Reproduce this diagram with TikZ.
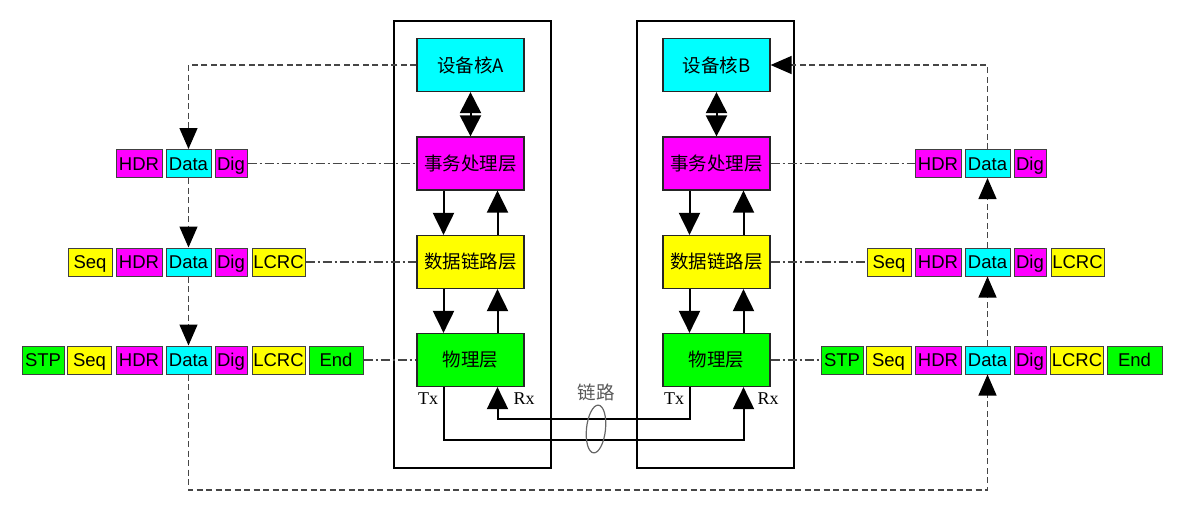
\documentclass[tikz,border=0pt]{standalone}
\usepackage{fontspec}
\setmainfont{Liberation Serif}
\setsansfont{Liberation Sans}
\newfontfamily\cjk{Noto Sans CJK SC}
\usetikzlibrary{arrows.meta,shapes.geometric}
\definecolor{cy}{RGB}{0,255,255}
\definecolor{mg}{RGB}{255,0,255}
\definecolor{yl}{RGB}{255,255,0}
\definecolor{gr}{RGB}{0,255,0}
\definecolor{ln}{RGB}{70,70,70}
\begin{document}
\begin{tikzpicture}[x=1pt,y=-1pt,
 pkt/.style={draw=black!75,line width=1pt,minimum height=28pt,inner sep=0pt,text height=16pt,text depth=3pt,font=\sffamily\fontsize{18.5}{18.5}\selectfont},
 layer/.style={draw=black!85,line width=1.2pt,minimum width=107pt,minimum height=53pt,inner sep=0pt,font=\cjk\fontsize{18.5}{18.5}\selectfont},
 frame/.style={draw=black,line width=2pt,minimum width=157pt,minimum height=447pt,inner sep=0pt},
 blk/.style={line width=2pt,-{Triangle[length=22pt,width=21pt]}},
 flow/.style={draw=ln,line width=1.3pt,dash pattern=on 6pt off 3.5pt,-{Triangle[length=21pt,width=18pt,color=black,fill=black]}},
 dd/.style={draw=ln,line width=1.2pt,dash pattern=on 9pt off 3pt on 2pt off 3pt},
 lbl/.style={font=\fontsize{18}{18}\selectfont,inner sep=0pt}
]
\useasboundingbox (0,0) rectangle (1187,507);
% frames
\node[frame] (frameA) at (472.5,244.5) {};
\node[frame] (frameB) at (715,244.5) {};
% layer boxes
\node[layer,fill=cy] (coreA) at (470.5,65) {设备核A};
\node[layer,fill=mg] (transA) at (470.5,163.5) {事务处理层};
\node[layer,fill=yl] (dllA) at (470.5,262) {数据链路层};
\node[layer,fill=gr] (phyA) at (470.5,360) {物理层};
\node[layer,fill=cy] (coreB) at (716.5,65) {设备核B};
\node[layer,fill=mg] (transB) at (716.5,163.5) {事务处理层};
\node[layer,fill=yl] (dllB) at (716.5,262) {数据链路层};
\node[layer,fill=gr] (phyB) at (716.5,360) {物理层};
% left packets
\node[pkt,fill=mg,minimum width=46pt] (hL1) at (139,163.5) {HDR};
\node[pkt,fill=cy,minimum width=45pt] (dL1) at (188.5,163.5) {Data};
\node[pkt,fill=mg,minimum width=32pt] (gL1) at (231,163.5) {Dig};
\node[pkt,fill=yl,minimum width=44pt] (sL2) at (90,262) {Seq};
\node[pkt,fill=mg,minimum width=46pt] (hL2) at (139,262) {HDR};
\node[pkt,fill=cy,minimum width=45pt] (dL2) at (188.5,262) {Data};
\node[pkt,fill=mg,minimum width=32pt] (gL2) at (231,262) {Dig};
\node[pkt,fill=yl,minimum width=53pt] (cL2) at (278.5,262) {LCRC};
\node[pkt,fill=gr,minimum width=42pt] (tL3) at (43,360) {STP};
\node[pkt,fill=yl,minimum width=44pt] (sL3) at (89.5,360) {Seq};
\node[pkt,fill=mg,minimum width=46pt] (hL3) at (139,360) {HDR};
\node[pkt,fill=cy,minimum width=45pt] (dL3) at (188.5,360) {Data};
\node[pkt,fill=mg,minimum width=32pt] (gL3) at (231,360) {Dig};
\node[pkt,fill=yl,minimum width=53pt] (cL3) at (278.5,360) {LCRC};
\node[pkt,fill=gr,minimum width=54pt] (eL3) at (336,360) {End};
% right packets
\node[pkt,fill=mg,minimum width=46pt] (hR1) at (938,163.5) {HDR};
\node[pkt,fill=cy,minimum width=45pt] (dR1) at (987.5,163.5) {Data};
\node[pkt,fill=mg,minimum width=32pt] (gR1) at (1030,163.5) {Dig};
\node[pkt,fill=yl,minimum width=44pt] (sR2) at (889,262) {Seq};
\node[pkt,fill=mg,minimum width=46pt] (hR2) at (938,262) {HDR};
\node[pkt,fill=cy,minimum width=45pt] (dR2) at (987.5,262) {Data};
\node[pkt,fill=mg,minimum width=32pt] (gR2) at (1030,262) {Dig};
\node[pkt,fill=yl,minimum width=53pt] (cR2) at (1077.5,262) {LCRC};
\node[pkt,fill=gr,minimum width=42pt] (tR3) at (842,360) {STP};
\node[pkt,fill=yl,minimum width=45pt] (sR3) at (888.5,360) {Seq};
\node[pkt,fill=mg,minimum width=46pt] (hR3) at (938,360) {HDR};
\node[pkt,fill=cy,minimum width=45pt] (dR3) at (987.5,360) {Data};
\node[pkt,fill=mg,minimum width=32pt] (gR3) at (1030,360) {Dig};
\node[pkt,fill=yl,minimum width=53pt] (cR3) at (1077,360) {LCRC};
\node[pkt,fill=gr,minimum width=55pt] (eR3) at (1134.5,360) {End};
% dash-dot level lines
\draw[dd] (gL1.east) -- (transA.west);
\draw[dd] (cL2.east) -- (dllA.west);
\draw[dd] (eL3.east) -- (phyA.west);
\draw[dd] (transB.east) -- (hR1.west);
\draw[dd] (dllB.east) -- (sR2.west);
\draw[dd] (phyB.east) -- (tR3.west);
% data flow
\coordinate (botY) at (0,490);
\draw[flow] (coreA.west) -| (dL1.north);
\draw[flow] (dL1.south) -- (dL2.north);
\draw[flow] (dL2.south) -- (dL3.north);
\draw[flow] (dL3.south) -- (dL3.south |- botY) -| (dR3.south);
\draw[flow] (dR3.north) -- (dR2.south);
\draw[flow] (dR2.north) -- (dR1.south);
\draw[flow] (dR1.north) |- (coreB.east);
% internal arrows
\draw[line width=2pt,{Triangle[length=21pt,width=21pt]}-{Triangle[length=21pt,width=21pt]}] (coreA) -- (transA);
\draw[line width=2pt,{Triangle[length=21pt,width=21pt]}-{Triangle[length=21pt,width=21pt]}] (coreB) -- (transB);
\draw[blk] ([xshift=-27pt]transA.south) -- ([xshift=-27pt]dllA.north);
\draw[blk] ([xshift=27pt]dllA.north) -- ([xshift=27pt]transA.south);
\draw[blk] ([xshift=-27pt]dllA.south) -- ([xshift=-27pt]phyA.north);
\draw[blk] ([xshift=27pt]phyA.north) -- ([xshift=27pt]dllA.south);
\draw[blk] ([xshift=-27pt]transB.south) -- ([xshift=-27pt]dllB.north);
\draw[blk] ([xshift=27pt]dllB.north) -- ([xshift=27pt]transB.south);
\draw[blk] ([xshift=-27pt]dllB.south) -- ([xshift=-27pt]phyB.north);
\draw[blk] ([xshift=27pt]phyB.north) -- ([xshift=27pt]dllB.south);
% link
\coordinate (txA) at ([xshift=-27pt]phyA.south);
\coordinate (rxA) at ([xshift=27pt]phyA.south);
\coordinate (txB) at ([xshift=-27pt]phyB.south);
\coordinate (rxB) at ([xshift=27pt]phyB.south);
\coordinate (lowY) at (0,440);
\coordinate (upY) at (0,419);
\draw[blk] (txA) -- (txA |- lowY) -| (rxB);
\draw[blk] (txB) -- (txB |- upY) -| (rxA);
\node[lbl] (lTxA) at (428,399) {Tx};
\node[lbl] (lRxA) at (524,399) {Rx};
\node[lbl] (lTxB) at (674,399) {Tx};
\node[lbl] (lRxB) at (768,399) {Rx};
\node[lbl,font=\cjk\fontsize{18.5}{18.5}\selectfont,text=black!65] (lk) at (596,392) {链路};
\node[draw=black!60,line width=1.2pt,ellipse,minimum width=19pt,minimum height=48pt,inner sep=0pt,rotate=-6] (el) at (596,429) {};
\end{tikzpicture}
\end{document}
